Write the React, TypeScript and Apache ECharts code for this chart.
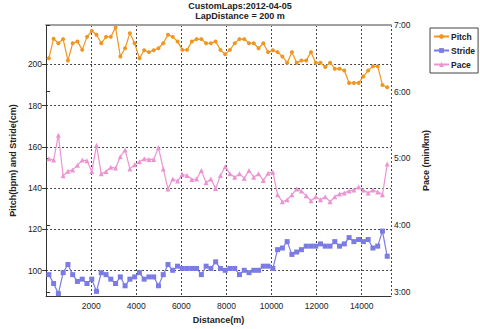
import React, { useEffect, useRef } from "react";
import * as echarts from "echarts";

const distances = [
  123, 334, 546, 757, 969, 1180, 1391, 1603, 1814, 2026, 2237, 2448, 2660, 2871, 3083, 3294,
  3505, 3717, 3928, 4140, 4351, 4562, 4774, 4985, 5197, 5408, 5619, 5831, 6042, 6254, 6465,
  6676, 6888, 7099, 7311, 7522, 7733, 7945, 8156, 8368, 8579, 8790, 9002, 9213, 9425, 9636,
  9847, 10059, 10270, 10482, 10693, 10904, 11116, 11327, 11539, 11750, 11961, 12173, 12384,
  12596, 12807, 13018, 13230, 13441, 13653, 13864, 14075, 14287, 14498, 14710, 14921, 15132,
];

const pitch = [
  202.9, 212.4, 210.2, 212.2, 201.8, 210.2, 211.1, 207.0, 213.3, 216.2, 214.3, 210.2, 213.3,
  213.3, 217.9, 203.8, 207.8, 215.1, 210.2, 202.9, 206.8, 205.9, 206.8, 207.8, 210.2, 214.3,
  213.3, 211.1, 207.0, 207.0, 211.1, 212.2, 212.2, 210.2, 210.2, 211.1, 207.0, 204.9, 207.0,
  210.2, 212.2, 212.2, 210.2, 210.2, 207.8, 210.2, 205.9, 206.8, 205.9, 203.8, 200.8, 205.9,
  200.8, 201.8, 201.8, 205.9, 200.8, 200.8, 198.7, 200.8, 197.9, 197.9, 197.0, 191.0, 191.0,
  191.0, 194.1, 197.0, 199.0, 199.0, 190.0, 188.9,
];

const stride = [
  98.1, 93.8, 88.9, 99.05, 103.0, 98.1, 94.8, 95.9, 93.8, 95.9, 90.0, 99.05, 98.1, 95.9, 93.8,
  97.0, 92.7, 95.9, 97.0, 99.05, 95.9, 97.0, 97.0, 92.7, 98.1, 103.0, 100.2, 102.2, 101.1,
  101.1, 101.1, 101.1, 98.1, 102.2, 101.1, 104.3, 101.1, 100.2, 101.1, 101.1, 98.1, 100.2,
  99.05, 100.2, 100.2, 102.2, 102.2, 101.1, 110.2, 111.0, 114.1, 107.9, 109.05, 110.2, 111.9,
  111.9, 111.9, 113.0, 111.9, 111.9, 114.1, 111.9, 113.0, 116.05, 114.1, 115.1, 114.1, 115.1,
  111.0, 111.9, 119.2, 107.0,
];

// pace in minutes per km
const pace = [
  4.995, 4.975, 5.349, 4.74, 4.808, 4.828, 4.897, 4.975, 4.966, 4.804, 5.196, 4.769, 4.804,
  4.867, 4.857, 5.025, 5.128, 4.843, 4.907, 4.951, 4.995, 4.985, 4.985, 5.162, 4.843, 4.543,
  4.691, 4.661, 4.759, 4.745, 4.686, 4.691, 4.818, 4.636, 4.691, 4.548, 4.745, 4.877, 4.769,
  4.72, 4.769, 4.705, 4.818, 4.72, 4.769, 4.671, 4.779, 4.794, 4.455, 4.351, 4.381, 4.455,
  4.543, 4.514, 4.44, 4.366, 4.425, 4.381, 4.425, 4.351, 4.425, 4.469, 4.484, 4.514, 4.528,
  4.573, 4.528, 4.484, 4.528, 4.499, 4.455, 4.916,
];

const seriesNames = ["Pitch", "Stride", "Pace"];
const titleText = "CustomLaps:2012-04-05";
const subtitleText = "LapDistance = 200 m";

const FONT = "'Liberation Sans', Arial, sans-serif";

export default function App() {
  const ref = useRef<HTMLDivElement>(null);

  useEffect(() => {
    if (!ref.current) return;
    const chart = echarts.init(ref.current, undefined, { renderer: "svg" });
    const zip = (vals: number[]) => vals.map((v, i) => [distances[i], v]);
    const dashed = { show: true, lineStyle: { color: "#444", type: [2, 2] as any, width: 1 } };
    const nameStyle = { fontSize: 9, fontWeight: "bold", color: "#222", fontFamily: FONT };
    const labelStyle = { fontSize: 8.5, fontWeight: "normal", color: "#222", fontFamily: FONT };

    chart.setOption({
      animation: false,
      backgroundColor: "#fff",
      textStyle: { fontFamily: FONT },
      title: {
        text: titleText,
        subtext: subtitleText,
        left: "center",
        top: 1,
        padding: 0,
        itemGap: 0,
        textStyle: { fontSize: 9, fontWeight: "bold", color: "#222", lineHeight: 10, fontFamily: FONT },
        subtextStyle: { fontSize: 9, fontWeight: "bold", color: "#222", lineHeight: 10, fontFamily: FONT },
      },
      legend: {
        data: seriesNames,
        orient: "vertical",
        left: 430,
        top: 28,
        borderColor: "#444",
        borderWidth: 1,
        padding: [4, 3, 4, 3],
        itemWidth: 15,
        itemHeight: 6,
        itemGap: 5,
        textStyle: { fontSize: 8.5, fontWeight: "bold", color: "#222", fontFamily: FONT, padding: [0, 0, 0, -3] },
      },
      grid: { left: 37, right: 89, top: 25, bottom: 28, containLabel: false },
      xAxis: [
        {
          type: "value",
          min: 0,
          max: 15300,
          interval: 2000,
          name: "Distance(m)",
          nameLocation: "middle",
          nameGap: 16,
          nameTextStyle: nameStyle,
          axisLine: { show: true, lineStyle: { color: "#333", width: 1 } },
          axisTick: { show: false },
          axisLabel: {
            ...labelStyle,
            margin: 5,
            showMaxLabel: false,
            formatter: (v: number) => (v === 0 || v % 2000 !== 0 ? "" : String(v)),
          },
          splitLine: dashed,
        },
        {
          type: "value",
          position: "top",
          min: 0,
          max: 15300,
          axisLine: { show: true, onZero: false, lineStyle: { color: "#a0a0a0", width: 2 } },
          axisTick: { show: false },
          axisLabel: { show: false },
          splitLine: { show: false },
        },
      ],
      yAxis: [
        {
          type: "value",
          min: 87.7,
          max: 219.05,
          splitNumber: 6,
          minInterval: 20,
          maxInterval: 20,
          name: "Pitch(bpm) and Stride(cm)",
          nameLocation: "middle",
          nameRotate: 90,
          nameGap: 20,
          nameTextStyle: nameStyle,
          axisLine: { show: true, lineStyle: { color: "#333", width: 1 } },
          axisTick: { show: true, length: 4, lineStyle: { color: "#333" } },
          axisLabel: {
            ...labelStyle,
            margin: 4,
            showMinLabel: false,
            showMaxLabel: false,
            formatter: (v: number) => (Math.abs(v % 20) < 1e-6 ? String(Math.round(v)) : ""),
          },
          splitLine: dashed,
        },
        {
          type: "value",
          min: 2.937,
          max: 7.0,
          splitNumber: 4,
          minInterval: 1,
          maxInterval: 1,
          position: "right",
          name: "Pace (min/km)",
          nameLocation: "middle",
          nameRotate: 90,
          nameGap: 23,
          nameTextStyle: nameStyle,
          axisLine: { show: true, lineStyle: { color: "#333", width: 1 } },
          axisTick: { show: true, length: 4, lineStyle: { color: "#333" } },
          axisLabel: {
            ...labelStyle,
            margin: 3,
            showMinLabel: false,
            formatter: (v: number) =>
              Math.abs(v - Math.round(v)) < 1e-6 ? `${Math.round(v)}:00` : "",
          },
          splitLine: { show: false },
        },
      ],
      series: [
        {
          name: "Pitch",
          type: "line",
          yAxisIndex: 0,
          data: zip(pitch),
          symbol: "circle",
          symbolSize: 4,
          color: "#f0951f",
          lineStyle: { width: 1.2 },
        },
        {
          name: "Stride",
          type: "line",
          yAxisIndex: 0,
          data: zip(stride),
          symbol: "rect",
          symbolSize: 5,
          color: "#7b7be6",
          lineStyle: { width: 1.2 },
        },
        {
          name: "Pace",
          type: "line",
          yAxisIndex: 1,
          data: zip(pace),
          symbol: "triangle",
          symbolSize: 5,
          color: "#ec94d2",
          lineStyle: { width: 1.2 },
        },
      ],
    });
    return () => chart.dispose();
  }, []);

  return (
    <div
      ref={ref}
      style={{ position: "fixed", left: 0, top: 0, width: 480, height: 329, background: "#fff" }}
    />
  );
}
